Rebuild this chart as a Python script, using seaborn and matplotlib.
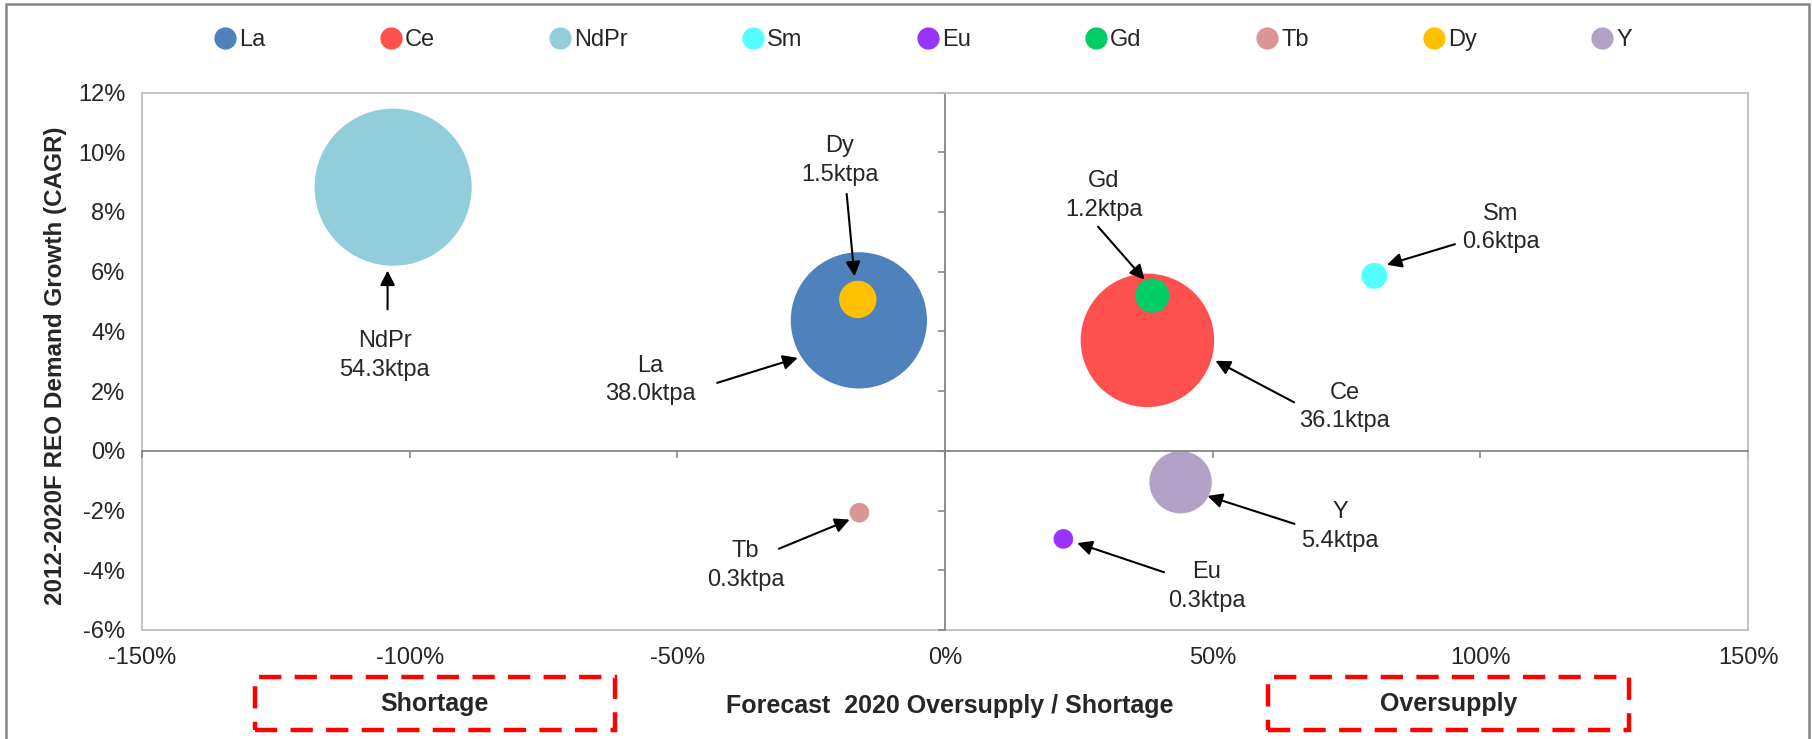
import matplotlib
matplotlib.use("Agg")
import matplotlib.pyplot as plt
import pandas as pd
import seaborn as sns
from matplotlib.lines import Line2D
from matplotlib.patches import Rectangle
from matplotlib.ticker import PercentFormatter
from matplotlib.transforms import offset_copy

# REO balance per element
elements = ["La", "Ce", "NdPr", "Sm", "Eu", "Gd", "Tb", "Dy", "Y"]
oversupply_pct = [-16.1, 37.8, -103.1, 80.2, 22.1, 38.7, -16.0, -16.3, 44.0]
demand_cagr_pct = [4.37, 3.70, 8.83, 5.86, -2.95, 5.20, -2.07, 5.07, -1.05]
demand_ktpa = [38.0, 36.1, 54.3, 0.6, 0.3, 1.2, 0.3, 1.5, 5.4]
colors = ["#4F81BD", "#FF5050", "#92CDDC", "#55FFFF", "#9933FF",
          "#00CC66", "#D99694", "#FFC000", "#B3A2C7"]

x_ticks = [-150, -100, -50, 0, 50, 100, 150]
y_ticks = [-6, -4, -2, 0, 2, 4, 6, 8, 10, 12]

# label layout, offsets in points from bubble centre:
# (text dx, text dy, arrow start dx, dy, arrow tip dx, dy)
label_offsets = {
    "NdPr": (-6, -121, -4, -88, -4, -60),
    "La": (-150, -43, -102, -45, -44, -27),
    "Dy": (-13, 100, -8, 76, -2.4, 16.6),
    "Gd": (-35, 72, -39, 49.6, -5.5, 11.4),
    "Sm": (91, 34.5, 58, 22.8, 9, 8),
    "Ce": (142, -48, 105.6, -44.6, 49, -14.7),
    "Y": (115, -32, 82, -30, 19.4, -9.9),
    "Eu": (103, -34, 72.5, -24, 10, -3),
    "Tb": (-82, -38, -58, -26, -7, -5),
}

FS = 17
FS_BOLD = 18
BORDER = "#BFBFBF"
AXIS = "#868686"


def main() -> None:
    sns.set_style("white")
    plt.rcParams["font.family"] = ["Liberation Sans", "DejaVu Sans"]
    plt.rcParams["axes.unicode_minus"] = False

    df = pd.DataFrame({
        "element": elements,
        "oversupply": oversupply_pct,
        "cagr": demand_cagr_pct,
        "ktpa": demand_ktpa,
    })
    # bubble area grows a little slower than volume, as in the source chart
    df["bubble"] = df["ktpa"] ** 0.8

    fig = plt.figure(figsize=(18.12, 7.39), dpi=100)
    ax = fig.add_axes([0.0784, 0.1475, 0.8863, 0.7273])

    sns.scatterplot(
        data=df,
        x="oversupply",
        y="cagr",
        hue="element",
        hue_order=elements,
        palette=colors,
        size="bubble",
        sizes=(0, 12800),
        size_norm=(0, df["bubble"].max()),
        linewidth=0,
        alpha=1,
        legend=False,
        ax=ax,
    )
    ax.set(xlabel="", ylabel="")
    ax.set_xlim(-150, 150)
    ax.set_ylim(-6, 12)

    # axis lines cross at zero, tick labels stay at the plot edges
    ax.spines["left"].set_position(("data", 0))
    ax.spines["bottom"].set_position(("data", 0))
    for side in ["left", "bottom"]:
        ax.spines[side].set_color(AXIS)
        ax.spines[side].set_linewidth(1.3)
    for side in ["top", "right"]:
        ax.spines[side].set_color(BORDER)
        ax.spines[side].set_linewidth(1.3)
    ax.set_xticks(x_ticks)
    ax.set_yticks(y_ticks)
    ax.tick_params(bottom=True, left=True, direction="out", length=5,
                   width=1.2, color=AXIS, labelbottom=False, labelleft=False)

    sec_x = ax.secondary_xaxis("bottom")
    sec_x.set_xticks(x_ticks)
    sec_x.xaxis.set_major_formatter(PercentFormatter(xmax=100, decimals=0))
    sec_x.tick_params(length=0, pad=12, labelsize=FS)
    sec_x.spines["bottom"].set_color(BORDER)
    sec_x.spines["bottom"].set_linewidth(1.3)
    sec_x.set_xlabel("Forecast  2020 Oversupply / Shortage",
                     fontsize=FS_BOLD, fontweight="bold")
    sec_x.xaxis.set_label_coords(0.503, -0.119, transform=ax.transAxes)

    sec_y = ax.secondary_yaxis("left")
    sec_y.set_yticks(y_ticks)
    sec_y.yaxis.set_major_formatter(PercentFormatter(xmax=100, decimals=0))
    sec_y.tick_params(length=0, pad=12, labelsize=FS)
    sec_y.spines["left"].set_color(BORDER)
    sec_y.spines["left"].set_linewidth(1.3)
    sec_y.set_ylabel("2012-2020F REO Demand Growth (CAGR)",
                     fontsize=17.5, fontweight="bold")
    sec_y.yaxis.set_label_coords(-0.047, 0.492, transform=ax.transAxes)

    # callouts
    for _, row in df.iterrows():
        tdx, tdy, sdx, sdy, adx, ady = label_offsets[row["element"]]
        xy = (row["oversupply"], row["cagr"])
        ax.annotate(
            f"{row['element']}\n{row['ktpa']:.1f}ktpa",
            xy=xy,
            xytext=(tdx, tdy),
            textcoords="offset points",
            ha="center",
            va="center",
            fontsize=FS,
            linespacing=1.4,
        )
        tip = offset_copy(ax.transData, fig=fig, x=adx, y=ady, units="points")
        ax.annotate(
            "",
            xy=xy,
            xycoords=tip,
            xytext=(sdx - adx, sdy - ady),
            textcoords="offset points",
            arrowprops=dict(arrowstyle="-|>", color="black", lw=1.5,
                            mutation_scale=22, shrinkA=0, shrinkB=0),
        )

    handles = [
        Line2D([], [], marker="o", linestyle="", markersize=16,
               markerfacecolor=c, markeredgewidth=0, label=e)
        for e, c in zip(elements, colors)
    ]
    fig.legend(
        handles=handles,
        loc="center",
        bbox_to_anchor=(0.5095, 0.946),
        ncol=len(elements),
        frameon=False,
        fontsize=FS,
        handlelength=0.9,
        handletextpad=0.15,
        columnspacing=4.85,
    )

    # shortage / oversupply call-out boxes
    for text, x0 in [("Shortage", 0.1405), ("Oversupply", 0.7000)]:
        fig.patches.append(Rectangle(
            (x0, 0.012), 0.199, 0.072, transform=fig.transFigure,
            fill=False, edgecolor="#FF0000", linewidth=3.2,
            linestyle=(0, (5, 3)),
        ))
        fig.text(x0 + 0.0995, 0.047, text, ha="center", va="center",
                 fontsize=FS_BOLD, fontweight="bold")

    # chart frame
    fig.patches.append(Rectangle(
        (6 / 1812, -0.05), 1803 / 1812, 1.05 - 4 / 739,
        transform=fig.transFigure, fill=False, edgecolor=AXIS, linewidth=1.8,
    ))

    fig.savefig("out.png", dpi=100, facecolor="white")
    plt.close(fig)


if __name__ == "__main__":
    main()
